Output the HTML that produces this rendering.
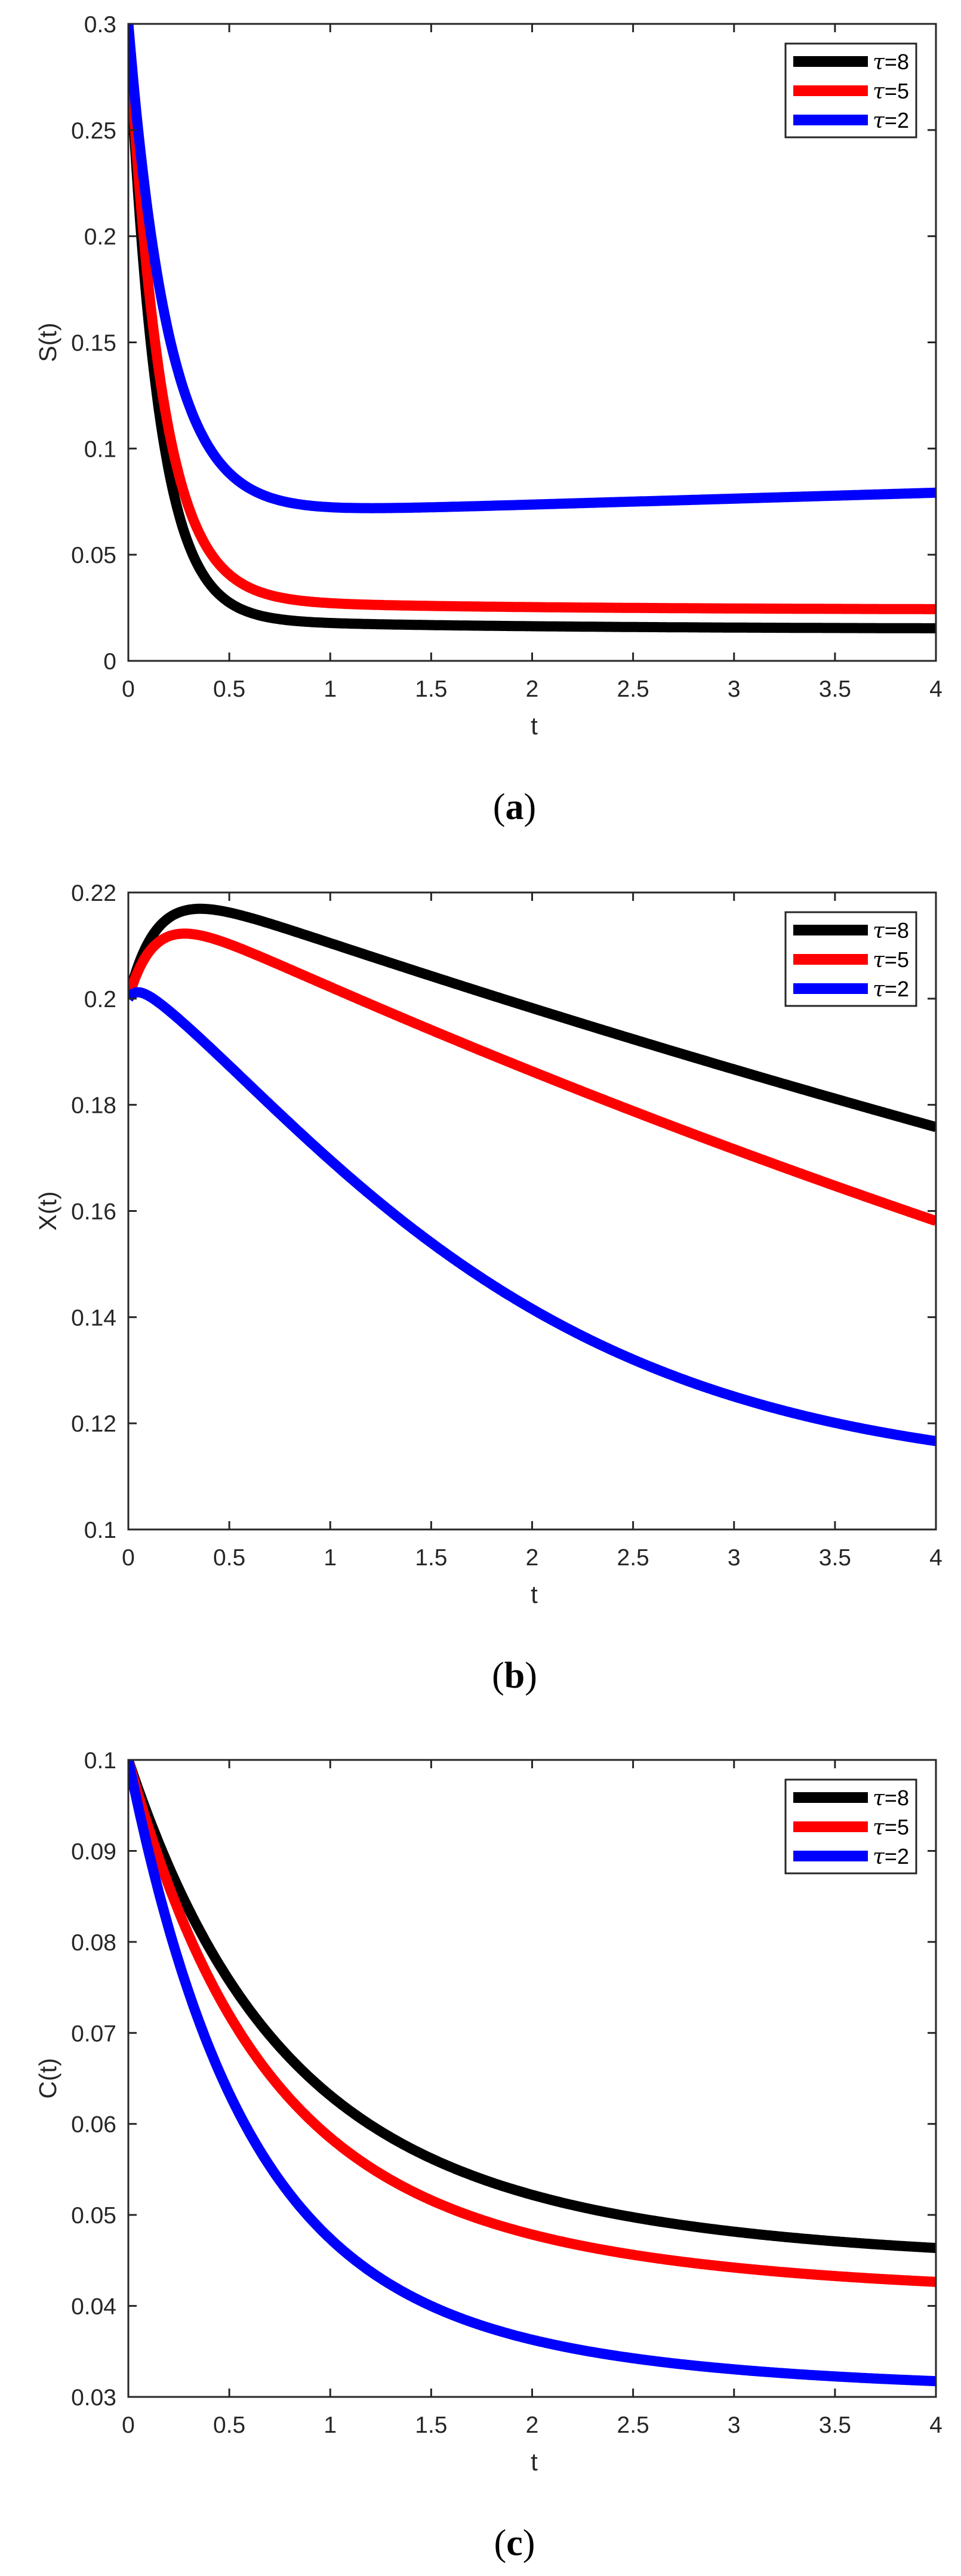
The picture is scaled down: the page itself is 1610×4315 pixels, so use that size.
<!DOCTYPE html>
<html><head><meta charset="utf-8"><style>html,body{margin:0;padding:0;background:#fff}svg{display:block}</style></head>
<body>
<svg id="s" xmlns="http://www.w3.org/2000/svg" width="1610" height="4315" viewBox="0 0 1610 4315" font-family="Liberation Sans, sans-serif"></svg>
<script>
const NS="http://www.w3.org/2000/svg",svg=document.getElementById('s');
function el(t,a,txt){const e=document.createElementNS(NS,t);for(const k in a)e.setAttribute(k,a[k]);if(txt!==undefined)e.textContent=txt;svg.appendChild(e);return e;}
const E=Math.exp;
const L=215,R=1568,H=1067;
const plots=[
 {off:0,ymin:0,ymax:0.3,ticks:[0,0.05,0.1,0.15,0.2,0.25,0.3],lab:['0','0.05','0.1','0.15','0.2','0.25','0.3'],yl:'S(t)',cap:'a',
  f:[t=>0.015+0.005*E(-t/1.5)+0.28*E(-t/0.145),
     t=>0.024+0.005*E(-t/1.5)+0.271*E(-t/0.165),
     t=>0.068+0.0028*t+0.232*E(-t/0.2)]},
 {off:1455,ymin:0.1,ymax:0.22,ticks:[0.1,0.12,0.14,0.16,0.18,0.2,0.22],lab:['0.1','0.12','0.14','0.16','0.18','0.2','0.22'],yl:'X(t)',cap:'b',
  f:[t=>0.2235*E(-0.06*t)-0.0235*E(-t/0.14),
     t=>0.2195*E(-0.082*t)-0.0195*E(-t/0.13),
     t=>0.2+0.003*(E(-t/1)-E(-t/0.04))-0.09*(1-E(-Math.pow(t/1.91,1.3)))]},
 {off:2908,ymin:0.03,ymax:0.1,ticks:[0.03,0.04,0.05,0.06,0.07,0.08,0.09,0.1],lab:['0.03','0.04','0.05','0.06','0.07','0.08','0.09','0.1'],yl:'C(t)',cap:'c',
  f:[t=>0.0445+0.022*E(-t/1.6)+0.0335*E(-t/0.63),
     t=>0.041+0.0195*E(-t/1.6)+0.0395*E(-t/0.58),
     t=>0.0305+0.0173*E(-t/1.5)+0.0522*E(-t/0.533)]}
];
const cols=['#000','#f00','#00f'],names=['8','5','2'];
plots.forEach(p=>{
 const T=40+p.off,B=T+H;
 const X=t=>L+(R-L)*t/4,Y=v=>B-(v-p.ymin)/(p.ymax-p.ymin)*H;
 const cid='c'+p.cap;const cp=el('clipPath',{id:cid});
 const r=document.createElementNS(NS,'rect');r.setAttribute('x',L);r.setAttribute('y',T);r.setAttribute('width',R-L);r.setAttribute('height',H);cp.appendChild(r);
 p.f.forEach((f,i)=>{let d='';for(let k=0;k<=400;k++){const t=4*k/400;d+=(k?'L':'M')+X(t).toFixed(1)+','+Y(f(t)).toFixed(1);}
  el('path',{d:d,fill:'none',stroke:cols[i],'stroke-width':17,'stroke-linejoin':'round','clip-path':'url(#'+cid+')'});});
 el('rect',{x:L,y:T,width:R-L,height:H,fill:'none',stroke:'#262626','stroke-width':3});
 for(let k=0;k<=8;k++){const x=X(k/2);
  el('line',{x1:x,y1:B,x2:x,y2:B-14,stroke:'#262626','stroke-width':3});
  el('line',{x1:x,y1:T,x2:x,y2:T+14,stroke:'#262626','stroke-width':3});
  el('text',{x:x,y:B+60,'font-size':39,fill:'#262626','text-anchor':'middle'},(k/2).toString());}
 p.ticks.forEach((v,i)=>{const y=Y(v);
  el('line',{x1:L,y1:y,x2:L+14,y2:y,stroke:'#262626','stroke-width':3});
  el('line',{x1:R,y1:y,x2:R-14,y2:y,stroke:'#262626','stroke-width':3});
  el('text',{x:195,y:y+14,'font-size':39,fill:'#262626','text-anchor':'end'},p.lab[i]);});
 el('text',{x:895,y:B+123,'font-size':42,fill:'#262626','text-anchor':'middle'},'t');
 el('text',{x:94,y:(T+B)/2,'font-size':41,fill:'#262626','text-anchor':'middle',transform:'rotate(-90 94 '+((T+B)/2)+')'},p.yl);
 const lt=73+p.off;
 el('rect',{x:1316,y:lt,width:219,height:157,fill:'#fff',stroke:'#262626','stroke-width':3});
 for(let i=0;i<3;i++){const y=lt+30+49*i;
  el('line',{x1:1329,y1:y,x2:1454,y2:y,stroke:cols[i],'stroke-width':18});
  const tx=el('text',{x:1462,y:y+13,'font-size':36,fill:'#000'});
  const a=document.createElementNS(NS,'tspan');a.setAttribute('font-style','italic');a.setAttribute('font-family','DejaVu Serif, serif');a.textContent='τ';tx.appendChild(a);
  const b=document.createElementNS(NS,'tspan');b.textContent='='+names[i];tx.appendChild(b);}
 const c=el('text',{x:862,y:1372+p.off,'font-size':62,fill:'#000','text-anchor':'middle','font-family':'Liberation Serif, serif'});
 const a1=document.createElementNS(NS,'tspan');a1.textContent='(';c.appendChild(a1);
 const a2=document.createElementNS(NS,'tspan');a2.setAttribute('font-weight','bold');a2.textContent=p.cap;c.appendChild(a2);
 const a3=document.createElementNS(NS,'tspan');a3.textContent=')';c.appendChild(a3);
});
</script>
</body></html>
